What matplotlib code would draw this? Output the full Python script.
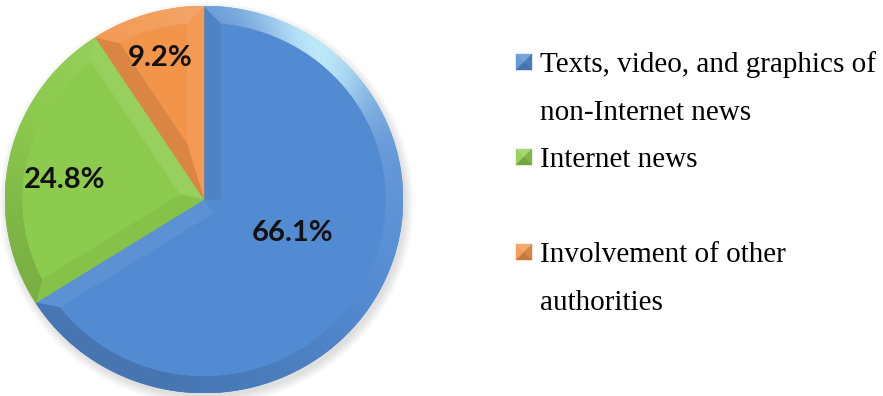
import numpy as np
import matplotlib
matplotlib.use("Agg")
import matplotlib.pyplot as plt
from matplotlib.patches import Polygon, Ellipse
from matplotlib.colors import to_rgb

# Shares of the news sources
categories = ["Texts, video, and graphics of\nnon-Internet news",
              "Internet news",
              "Involvement of other\nauthorities"]
shares = [66.1, 24.8, 9.2]
pct_labels = ["66.1%", "24.8%", "9.2%"]

face_colors = ["#538bd2", "#8dcb4e", "#f2944a"]
label_xy = [(0.447, -0.173), (-0.698, 0.10), (-0.221, 0.731)]

W, H = 883, 396
fig = plt.figure(figsize=(W / 100, H / 100), dpi=100)
fig.patch.set_facecolor("white")

# pie axes (pixel box of the disc)
left, right, top, bottom = 5, 403, 6, 393
ax = fig.add_axes([left / W, (H - bottom) / H, (right - left) / W, (bottom - top) / H])

# soft drop shadow
for k in range(8):
    ax.add_patch(Ellipse((0.012, -0.022), 2 + 0.012 * k, 2 + 0.012 * k,
                         facecolor="#000000", alpha=0.016, lw=0, zorder=0,
                         clip_on=False))

wedges, _ = ax.pie(shares, colors=face_colors, startangle=90, counterclock=False,
                   radius=1, wedgeprops=dict(linewidth=0))
ax.set_aspect("auto")
ax.set_xlim(-1, 1)
ax.set_ylim(-1, 1)
ax.axis("off")

LIGHT = 60.0
HILITE = np.array([0.80, 0.97, 1.0])


def shade(base, normal_deg, rim=False):
    rgb = np.array(to_rgb(base))
    c = np.cos(np.radians(normal_deg - LIGHT))
    k = 0.16 if rim else 0.11
    if c >= 0:
        out = rgb + (1 - rgb) * k * c
    else:
        out = rgb * (1 + k * c)
    if rim:
        s = max(np.cos(np.radians(normal_deg - 55)), 0) ** 14 * 0.85
        out = out + (HILITE - out) * s
    return tuple(np.clip(out, 0, 1))


def P(r, deg):
    return (r * np.cos(np.radians(deg)), r * np.sin(np.radians(deg)))


d = 0.085
rho = 1 - d
a = np.degrees(np.arcsin(d / rho))
for w, base in zip(wedges, face_colors):
    t1, t2 = w.theta1, w.theta2
    span = t2 - t1
    f1, f2 = t1 + a, t2 - a
    if span < 180:
        apex1 = apex2 = P(d / np.sin(np.radians(span / 2)), (t1 + t2) / 2)
    else:
        apex1, apex2 = P(d, t1 + 90), P(d, t2 - 90)
    c1 = shade(base, t1 - 90)
    c2 = shade(base, t2 + 90)
    ax.add_patch(Polygon([(0, 0), P(1, t1), P(rho, f1), apex1],
                         facecolor=c1, edgecolor=c1, lw=0.3, zorder=2))
    ax.add_patch(Polygon([(0, 0), apex2, P(rho, f2), P(1, t2)],
                         facecolor=c2, edgecolor=c2, lw=0.3, zorder=2))
    n = max(int(span * 1.5), 6)
    for i in range(n):
        ta, tb = t1 + span * i / n, t1 + span * (i + 1) / n
        ua, ub = f1 + (f2 - f1) * i / n, f1 + (f2 - f1) * (i + 1) / n
        cc = shade(base, (ta + tb) / 2, rim=True)
        ax.add_patch(Polygon([P(1, ta), P(1, tb), P(rho, ub), P(rho, ua)],
                             facecolor=cc, edgecolor=cc, lw=0.4, zorder=2))

for txt, (x, y) in zip(pct_labels, label_xy):
    ax.text(x, y, txt, ha="center", va="center", fontsize=21, fontweight="bold",
            family="Lato", color="#111111", zorder=5)

# legend drawn in pixel coordinates
lax = fig.add_axes([0, 0, 1, 1])
lax.set_xlim(0, W)
lax.set_ylim(H, 0)
lax.axis("off")
lax.patch.set_alpha(0)

marker_x, msize = 516, 16
entry_top = [54, 149, 244]
text_x = 540
line_gap = 48
for cat, base, ty in zip(categories, face_colors, entry_top):
    x0, x1, y0, y1 = marker_x, marker_x + msize, ty, ty + msize
    cxm, cym = (x0 + x1) / 2, (y0 + y1) / 2
    rgb = np.array(to_rgb(base))
    facets = [
        ([(x0, y0), (x1, y0), (cxm, cym)], rgb + (1 - rgb) * 0.22),   # top
        ([(x0, y0), (x0, y1), (cxm, cym)], rgb + (1 - rgb) * 0.12),   # left
        ([(x1, y0), (x1, y1), (cxm, cym)], rgb * 0.90),               # right
        ([(x0, y1), (x1, y1), (cxm, cym)], rgb * 0.82),               # bottom
    ]
    for pts, col in facets:
        col = tuple(np.clip(col, 0, 1))
        lax.add_patch(Polygon(pts, facecolor=col, edgecolor=col, lw=0.3))
    for j, line in enumerate(cat.split("\n")):
        lax.text(text_x, ty + 18 + j * line_gap, line, ha="left", va="baseline",
                 fontsize=21, family="Liberation Serif", color="#000000")

fig.savefig("out.png", dpi=100, facecolor="white")
